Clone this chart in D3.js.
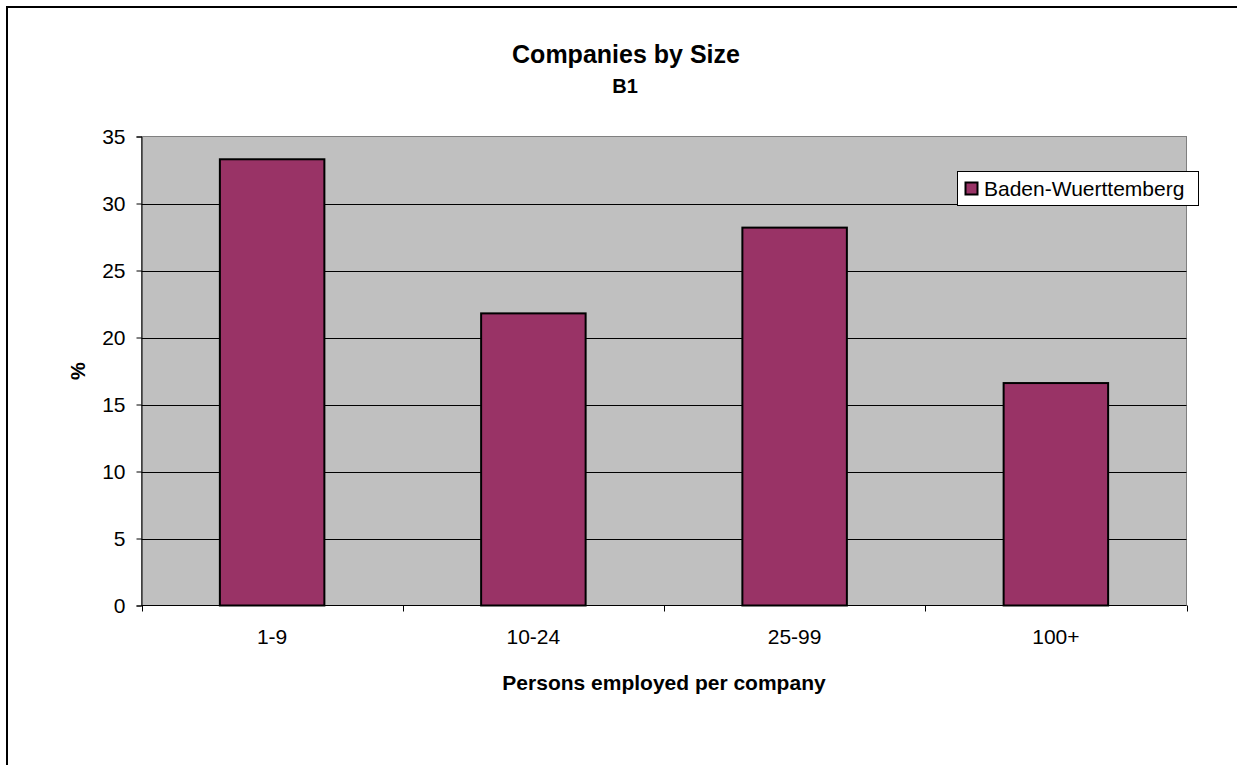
<!DOCTYPE html>
<html>
<head>
<meta charset="utf-8">
<script src="https://cdn.jsdelivr.net/npm/d3@7"></script>
<style>
  html, body { margin: 0; padding: 0; background: #fff; overflow: hidden; }
  svg { display: block; font-family: "Liberation Sans", Arial, sans-serif; }
</style>
</head>
<body>
<svg id="chart" width="1237" height="765"></svg>
<script>
// Share of companies by number of persons employed
const categories = ["1-9", "10-24", "25-99", "100+"];
const values = [33.3, 21.8, 28.2, 16.6];
const seriesName = "Baden-Wuerttemberg";
const yTicks = [0, 5, 10, 15, 20, 25, 30, 35];

const svg = d3.select("#chart");
const W = 1237, H = 765;
const FONT = "Liberation Sans, Arial, sans-serif";

// Outer chart frame (runs past the right and bottom edges)
svg.append("rect")
  .attr("x", 7).attr("y", 7)
  .attr("width", W + 50).attr("height", H + 50)
  .attr("fill", "#fff").attr("stroke", "#000").attr("stroke-width", 2);

const plot = { left: 141.5, right: 1186.5, top: 136.5, bottom: 605.5 };

const x = d3.scaleBand()
  .domain(categories)
  .range([plot.left, plot.right])
  .paddingInner(0.6).paddingOuter(0.3);

const xb = d3.scaleBand().domain(categories).range([plot.left, plot.right]);

const y = d3.scaleLinear().domain([0, 35]).range([plot.bottom, plot.top]);

// Plot background
svg.append("rect")
  .attr("x", plot.left).attr("y", plot.top)
  .attr("width", plot.right - plot.left).attr("height", plot.bottom - plot.top)
  .attr("fill", "#c0c0c0").attr("stroke", "#808080").attr("stroke-width", 1);

// Gridlines
svg.append("g").selectAll("line")
  .data(yTicks.filter(d => d > 0 && d < 35))
  .join("line")
  .attr("x1", plot.left).attr("x2", plot.right)
  .attr("y1", d => Math.round(y(d)) + 0.5).attr("y2", d => Math.round(y(d)) + 0.5)
  .attr("stroke", "#000").attr("stroke-width", 1);

// Bars
svg.append("g").selectAll("rect")
  .data(values)
  .join("rect")
  .attr("x", (d, i) => x(categories[i]))
  .attr("y", d => y(d))
  .attr("width", x.bandwidth())
  .attr("height", d => y(0) - y(d))
  .attr("fill", "#993366")
  .attr("stroke", "#000").attr("stroke-width", 2);

// Y axis
const yAxis = d3.axisLeft(y).tickValues(yTicks).tickSize(5).tickPadding(11);
const gy = svg.append("g").attr("transform", `translate(${plot.left},0)`).call(yAxis);
gy.attr("font-family", FONT).attr("font-size", 21);
gy.select(".domain").attr("stroke", "#000");
gy.selectAll(".tick line").attr("stroke", "#000");
gy.selectAll(".tick text").attr("fill", "#000");

// X axis with ticks at category boundaries
const gx = svg.append("g").attr("transform", `translate(0,${plot.bottom})`);
gx.append("line")
  .attr("x1", plot.left).attr("x2", plot.right)
  .attr("stroke", "#000");
const boundaries = categories.map(c => xb(c)).concat([plot.right]);
gx.selectAll("line.tk").data(boundaries).join("line")
  .attr("class", "tk")
  .attr("x1", d => Math.round(d) + 0.5).attr("x2", d => Math.round(d) + 0.5)
  .attr("y1", 0).attr("y2", 6).attr("stroke", "#000");
gx.selectAll("text").data(categories).join("text")
  .attr("x", d => xb(d) + xb.bandwidth() / 2)
  .attr("y", 38)
  .attr("text-anchor", "middle")
  .attr("font-size", 21).attr("fill", "#000")
  .text(d => d);

// Titles
svg.append("text").attr("x", 626).attr("y", 63)
  .attr("text-anchor", "middle").attr("font-size", 25).attr("font-weight", "bold")
  .text("Companies by Size");
svg.append("text").attr("x", 625).attr("y", 93)
  .attr("text-anchor", "middle").attr("font-size", 20).attr("font-weight", "bold")
  .text("B1");
svg.append("text").attr("x", 664).attr("y", 690)
  .attr("text-anchor", "middle").attr("font-size", 21).attr("font-weight", "bold")
  .text("Persons employed per company");
svg.append("text")
  .attr("transform", "translate(85,371) rotate(-90)")
  .attr("text-anchor", "middle").attr("font-size", 20).attr("font-weight", "bold")
  .text("%");

// Legend
const lg = svg.append("g");
lg.append("rect")
  .attr("x", 957.5).attr("y", 171.5).attr("width", 241).attr("height", 34)
  .attr("fill", "#fff").attr("stroke", "#000").attr("stroke-width", 1);
lg.append("rect")
  .attr("x", 965.5).attr("y", 182.5).attr("width", 12).attr("height", 12)
  .attr("fill", "#993366").attr("stroke", "#000").attr("stroke-width", 2);
lg.append("text")
  .attr("x", 984).attr("y", 196)
  .attr("font-size", 21).attr("fill", "#000")
  .text(seriesName);
</script>
</body>
</html>
